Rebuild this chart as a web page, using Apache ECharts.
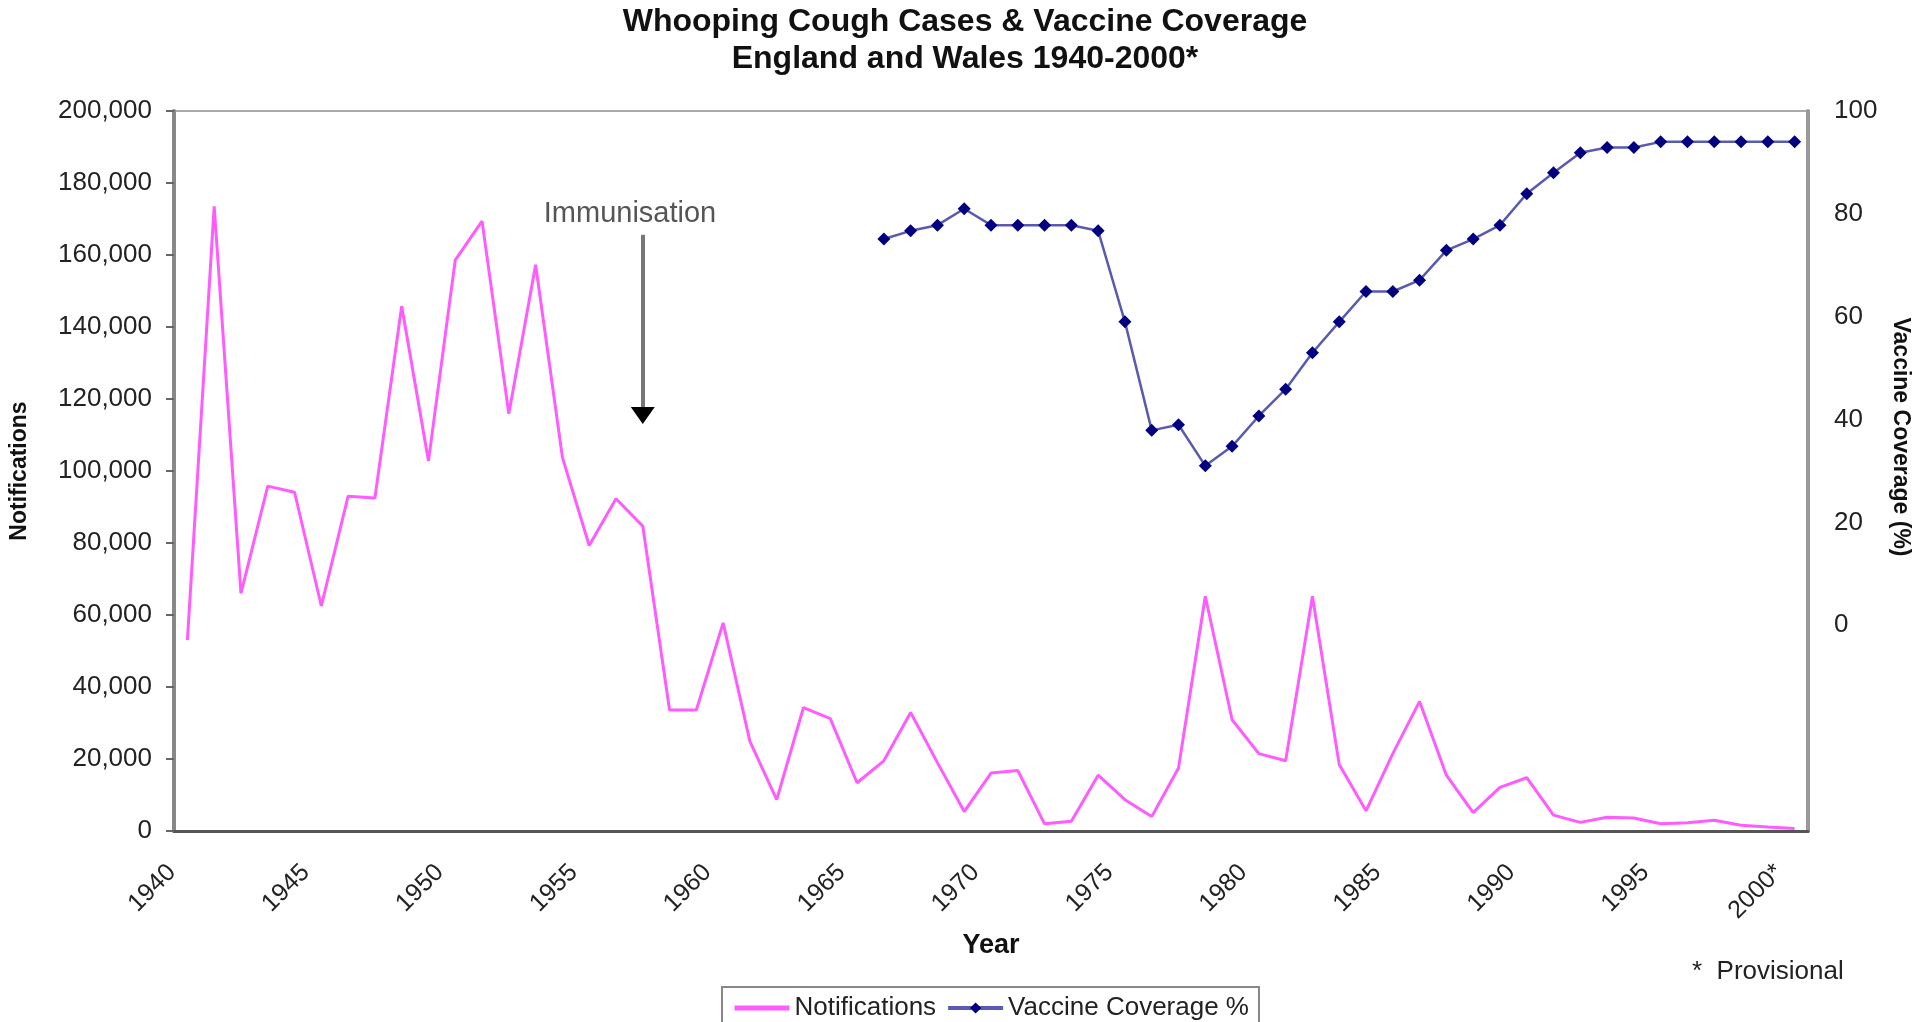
<!DOCTYPE html>
<html>
<head>
<meta charset="utf-8">
<title>Whooping Cough Cases & Vaccine Coverage</title>
<script src="https://cdn.jsdelivr.net/npm/echarts@6/dist/echarts.min.js"></script>
<style>
  html, body { margin: 0; padding: 0; background: #fff; }
  #chart { width: 1930px; height: 1022px; }
</style>
</head>
<body>
<div id="chart"></div>
<script>
// categories: one per year, 2000 is provisional
const years = [
  '1940', '1941', '1942', '1943', '1944', '1945', '1946', '1947', '1948', '1949',
  '1950', '1951', '1952', '1953', '1954', '1955', '1956', '1957', '1958', '1959',
  '1960', '1961', '1962', '1963', '1964', '1965', '1966', '1967', '1968', '1969',
  '1970', '1971', '1972', '1973', '1974', '1975', '1976', '1977', '1978', '1979',
  '1980', '1981', '1982', '1983', '1984', '1985', '1986', '1987', '1988', '1989',
  '1990', '1991', '1992', '1993', '1994', '1995', '1996', '1997', '1998', '1999',
  '2000*'
]

// notifications per year
const notifications = [
  53000, 173500, 66000, 95800, 94100, 62500, 93000, 92500, 145800, 102800,
  158600, 169400, 115900, 157300, 103800, 79300, 92300, 84700, 33600, 33600,
  57800, 24900, 8700, 34300, 31200, 13400, 19500, 32900, 19000, 5400,
  16100, 16800, 2000, 2700, 15500, 8700, 4000, 17500, 65200, 30900,
  21500, 19500, 65200, 18500, 5600, 21500, 36000, 15500, 5100, 12100,
  14800, 4400, 2400, 3800, 3600, 2000, 2300, 3000, 1600, 1100,
  700
]

// vaccine coverage %, no data before 1966
const coverage = [
  null, null, null, null, null, null, null, null, null, null,
  null, null, null, null, null, null, null, null, null, null,
  null, null, null, null, null, null, 75.1, 76.7, 77.8, 81.0,
  77.8, 77.8, 77.8, 77.8, 76.7, 59.0, 37.9, 39.0, 31.0, 34.8,
  40.7, 45.9, 53.0, 59.0, 64.9, 64.9, 67.1, 72.9, 75.1, 77.8,
  83.9, 88.0, 91.9, 92.9, 92.9, 94.0, 94.0, 94.0, 94.0, 94.0,
  94.0
]

// immunisation arrow: year and notification values for start / tip
const arrowYear = '1957'
const arrowFrom = 165600
const arrowTip = 115400

const font = '"Liberation Sans", Arial, sans-serif'

const chart = echarts.init(document.getElementById('chart'))

const option = {
  backgroundColor: '#fff',
  animation: false,
  textStyle: { fontFamily: font },
  title: {
    text: 'Whooping Cough Cases & Vaccine Coverage\nEngland and Wales 1940-2000*',
    left: 'center',
    top: 4,
    padding: 0,
    textStyle: {
      fontFamily: font,
      fontSize: 32,
      fontWeight: 'bold',
      color: '#111',
      lineHeight: 37
    }
  },
  grid: {
    left: 170,
    right: 122,
    top: 111,
    bottom: 191,
    show: true,
    borderColor: '#aaa',
    borderWidth: 2
  },
  legend: {
    left: 722,
    top: 987,
    padding: [8, 10, 8, 10],
    itemGap: 10,
    itemWidth: 55,
    itemHeight: 14,
    borderColor: '#888',
    borderWidth: 2,
    textStyle: { fontFamily: font, fontSize: 26, color: '#222' },
    data: [
      // plain line sample, no marker
      { name: 'Notifications', itemStyle: { opacity: 0 }, lineStyle: { width: 5 } },
      { name: 'Vaccine Coverage %', lineStyle: { width: 4 } }
    ]
  },
  xAxis: {
    type: 'category',
    data: years,
    boundaryGap: true,
    name: 'Year',
    nameLocation: 'middle',
    nameGap: 101,
    nameTextStyle: { fontFamily: font, fontSize: 27, fontWeight: 'bold', color: '#111' },
    axisLine: { lineStyle: { color: '#555', width: 3 } },
    axisTick: { interval: 0, length: 7, lineStyle: { color: '#555', width: 2 } },
    axisLabel: {
      interval: 4,
      rotate: 45,
      margin: 22,
      padding: [0, 22, 0, 0],
      fontFamily: font,
      fontSize: 25,
      color: '#222'
    },
    splitLine: { show: false }
  },
  yAxis: [
    {
      type: 'value',
      min: 0,
      max: 200000,
      interval: 20000,
      position: 'left',
      name: 'Notifications',
      nameLocation: 'middle',
      nameGap: 143,
      nameTextStyle: { fontFamily: font, fontSize: 23, fontWeight: 'bold', color: '#111' },
      axisLine: { show: true, lineStyle: { color: '#888', width: 4 } },
      axisTick: { show: true, length: 8, lineStyle: { color: '#666', width: 2 } },
      axisLabel: {
        margin: 22,
        fontFamily: font,
        fontSize: 26,
        color: '#222',
        formatter: v => v.toLocaleString('en-US')
      },
      splitLine: { show: false }
    },
    {
      type: 'value',
      min: -40,
      max: 100,
      interval: 20,
      position: 'right',
      axisLine: { show: true, lineStyle: { color: '#999', width: 4 } },
      axisTick: { show: false },
      axisLabel: {
        margin: 26,
        fontFamily: font,
        fontSize: 26,
        color: '#222',
        // only the 0-100 part of the scale is labelled
        formatter: v => (v < 0 ? '' : String(v))
      },
      splitLine: { show: false }
    }
  ],
  series: [
    {
      name: 'Notifications',
      type: 'line',
      yAxisIndex: 0,
      data: notifications,
      symbol: 'none',
      itemStyle: { color: '#ff5cff' },
      lineStyle: { color: '#ff5cff', width: 3 },
      z: 2,
      markLine: {
        silent: true,
        symbol: ['none', 'none'],
        lineStyle: { color: '#777', width: 4, type: 'solid' },
        label: { show: false },
        data: [[
          { coord: [arrowYear, arrowFrom] },
          { coord: [arrowYear, arrowTip] }
        ]]
      },
      markPoint: {
        silent: true,
        symbol: 'triangle',
        symbolSize: [24, 17],
        symbolRotate: 180,
        itemStyle: { color: '#000' },
        label: { show: false },
        data: [{ coord: [arrowYear, arrowTip] }]
      }
    },
    {
      name: 'Vaccine Coverage %',
      type: 'line',
      yAxisIndex: 1,
      data: coverage,
      connectNulls: false,
      symbol: 'diamond',
      symbolSize: 13,
      itemStyle: { color: '#000080' },
      lineStyle: { color: '#5a5ab0', width: 2.5 },
      z: 3
    }
  ],
  graphic: [
    {
      type: 'text',
      x: 630,
      y: 214,
      style: {
        text: 'Immunisation',
        fontFamily: font,
        fontSize: 29,
        fill: '#555',
        textAlign: 'center',
        textVerticalAlign: 'middle'
      }
    },
    {
      type: 'text',
      x: 1900,
      y: 437,
      rotation: -Math.PI / 2,
      style: {
        text: 'Vaccine Coverage (%)',
        fontFamily: font,
        fontSize: 23,
        fontWeight: 'bold',
        fill: '#111',
        textAlign: 'center',
        textVerticalAlign: 'middle'
      }
    },
    {
      type: 'text',
      left: 1692,
      top: 959,
      style: {
        text: '*  Provisional',
        fontFamily: font,
        fontSize: 26,
        fill: '#222'
      }
    }
  ]
}

chart.setOption(option)
</script>
</body>
</html>
